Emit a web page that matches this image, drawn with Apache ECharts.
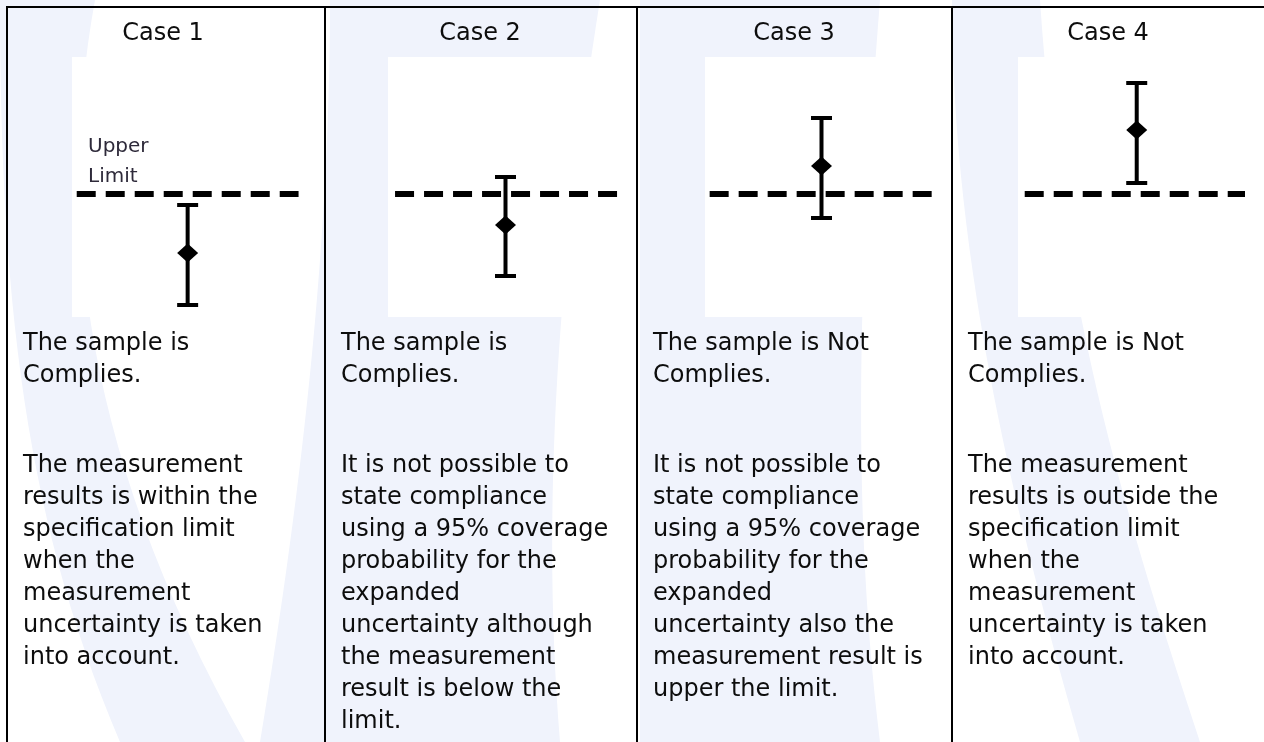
<!DOCTYPE html>
<html>
<head>
    <meta charset="UTF-8">
    <title>Upper limit compliance cases</title>
    <style>
        html, body {
            height: 100%;
            margin: 0;
            padding: 0;
            background: #fff;
        }
        #chart-container {
            width: 1264px;
            height: 742px;
        }
    </style>
</head>
<body>
<div id="chart-container"></div>

<script src="https://cdn.jsdelivr.net/npm/echarts@6/dist/echarts.min.js"></script>
<script>
    // 数据：四种情况（上限 = 0）
    const caseNames = ['Case 1', 'Case 2', 'Case 3', 'Case 4'];
    const limitValue = 0;
    const measured = [-5.9, -3.1, 2.8, 6.4];     // 测量结果（菱形）
    const upperU = [-1.1, 1.7, 7.6, 11.1];       // 扩展不确定度上端
    const lowerU = [-11.1, -8.2, -2.4, 1.1];     // 扩展不确定度下端
    const barX = [49, 50, 50, 53];
    const limitFrom = [2, 3, 2, 3];
    const limitTo = [96, 98, 99, 103];
    const verdicts = [
        'The sample is\nComplies.',
        'The sample is\nComplies.',
        'The sample is Not\nComplies.',
        'The sample is Not\nComplies.'
    ];
    const notes = [
        'The measurement\nresults is within the\nspecification limit\nwhen the\nmeasurement\nuncertainty is taken\ninto account.',
        'It is not possible to\nstate compliance\nusing a 95% coverage\nprobability for the\nexpanded\nuncertainty although\nthe measurement\nresult is below the\nlimit.',
        'It is not possible to\nstate compliance\nusing a 95% coverage\nprobability for the\nexpanded\nuncertainty also the\nmeasurement result is\nupper the limit.',
        'The measurement\nresults is outside the\nspecification limit\nwhen the\nmeasurement\nuncertainty is taken\ninto account.'
    ];

    // 版面（像素）
    const boxes = [
        {left: 72, top: 57, width: 236, height: 260},
        {left: 388, top: 57, width: 235, height: 260},
        {left: 705, top: 57, width: 233, height: 260},
        {left: 1018, top: 57, width: 224, height: 260}
    ];
    const dividers = [325, 637, 952];
    const headerX = [163, 480, 794, 1108];
    const textX = [23, 341, 653, 968];
    const FONT = '"DejaVu Sans", sans-serif';

    const chart = echarts.init(document.getElementById('chart-container'));

    function renderErrorBar(params, api) {
        const x = api.value(0);
        const lo = api.coord([x, api.value(1)]);
        const hi = api.coord([x, api.value(2)]);
        const half = 10.5;
        const style = {stroke: '#000', lineWidth: 4};
        return {
            type: 'group',
            children: [
                {type: 'line', shape: {x1: lo[0], y1: lo[1], x2: hi[0], y2: hi[1]}, style: style},
                {type: 'line', shape: {x1: hi[0] - half, y1: hi[1], x2: hi[0] + half, y2: hi[1]}, style: style},
                {type: 'line', shape: {x1: lo[0] - half, y1: lo[1], x2: lo[0] + half, y2: lo[1]}, style: style}
            ]
        };
    }

    const grids = [], xAxes = [], yAxes = [], series = [];
    caseNames.forEach(function (name, i) {
        grids.push(Object.assign({show: true, backgroundColor: '#fff', borderWidth: 0, z: 1}, boxes[i]));
        xAxes.push({type: 'value', gridIndex: i, min: 0, max: 100, show: false});
        yAxes.push({type: 'value', gridIndex: i, min: -12.3, max: 13.7, show: false});
        series.push({
            type: 'line',
            xAxisIndex: i, yAxisIndex: i,
            data: [[limitFrom[i], limitValue], [limitTo[i], limitValue]],
            symbol: 'none',
            clip: false,
            silent: true,
            z: 3,
            lineStyle: {color: '#000', width: 6, type: [19, 10], cap: 'butt'}
        });
        series.push({
            type: 'custom',
            xAxisIndex: i, yAxisIndex: i,
            data: [[barX[i], lowerU[i], upperU[i]]],
            encode: {x: 0, y: [1, 2]},
            renderItem: renderErrorBar,
            silent: true,
            z: 4
        });
        series.push({
            type: 'scatter',
            xAxisIndex: i, yAxisIndex: i,
            data: [[barX[i], measured[i]]],
            symbol: 'diamond',
            symbolSize: [21, 19],
            itemStyle: {color: '#000', opacity: 1},
            silent: true,
            z: 5
        });
    });

    // 背景水印（淡蓝色弧形），用三次贝塞尔采样成多边形
    function bez(p0, p1, p2, p3, n) {
        const pts = [];
        for (let k = 0; k <= n; k++) {
            const t = k / n, u = 1 - t;
            pts.push([
                u * u * u * p0[0] + 3 * u * u * t * p1[0] + 3 * u * t * t * p2[0] + t * t * t * p3[0],
                u * u * u * p0[1] + 3 * u * u * t * p1[1] + 3 * u * t * t * p2[1] + t * t * t * p3[1]
            ]);
        }
        return pts;
    }
    function band(a, b) {
        return a.concat(b.slice().reverse());
    }
    const wm = '#f0f3fc';
    const bands = [
        band(bez([95, 0], [55, 220], [85, 460], [245, 742], 30), bez([0, 0], [0, 300], [25, 520], [120, 742], 30)),
        band(bez([600, 0], [560, 250], [540, 500], [560, 742], 30), bez([330, 0], [330, 250], [300, 500], [260, 742], 30)),
        band(bez([880, 0], [860, 250], [850, 500], [880, 742], 30), [[640, 0], [640, 742]]),
        band(bez([1040, 0], [1060, 300], [1120, 500], [1200, 742], 30), bez([952, 0], [952, 250], [1010, 500], [1080, 742], 30))
    ];
    const graphics = bands.map(function (pts) {
        return {type: 'polygon', z: 0, shape: {points: pts}, style: {fill: wm}, silent: true};
    });

    // 表格线
    graphics.push({type: 'line', z: 6, shape: {x1: 7, y1: 7, x2: 1264, y2: 7}, style: {stroke: '#000', lineWidth: 2}});
    graphics.push({type: 'line', z: 6, shape: {x1: 7, y1: 6, x2: 7, y2: 742}, style: {stroke: '#000', lineWidth: 2}});
    dividers.forEach(function (x) {
        graphics.push({type: 'line', z: 6, shape: {x1: x, y1: 6, x2: x, y2: 742}, style: {stroke: '#000', lineWidth: 2}});
    });

    caseNames.forEach(function (name, i) {
        graphics.push({
            type: 'text', z: 6, x: headerX[i], y: 34,
            style: {text: name, font: '24px ' + FONT, fill: '#0d0d0d', align: 'center', verticalAlign: 'middle'}
        });
        graphics.push({
            type: 'text', z: 6, x: textX[i], y: 328,
            style: {text: verdicts[i], font: '24px ' + FONT, lineHeight: 32, fill: '#0d0d0d', align: 'left', verticalAlign: 'top'}
        });
        graphics.push({
            type: 'text', z: 6, x: textX[i], y: 450,
            style: {text: notes[i], font: '24px ' + FONT, lineHeight: 32, fill: '#0d0d0d', align: 'left', verticalAlign: 'top'}
        });
    });

    graphics.push({
        type: 'text', z: 6, x: 88, y: 132,
        style: {text: 'Upper\nLimit', font: '20px ' + FONT, lineHeight: 30, fill: '#2e2a3a', align: 'left', verticalAlign: 'top'}
    });

    const option = {
        animation: false,
        grid: grids,
        xAxis: xAxes,
        yAxis: yAxes,
        series: series,
        graphic: {elements: graphics}
    };

    chart.setOption(option);
</script>
</body>
</html>
